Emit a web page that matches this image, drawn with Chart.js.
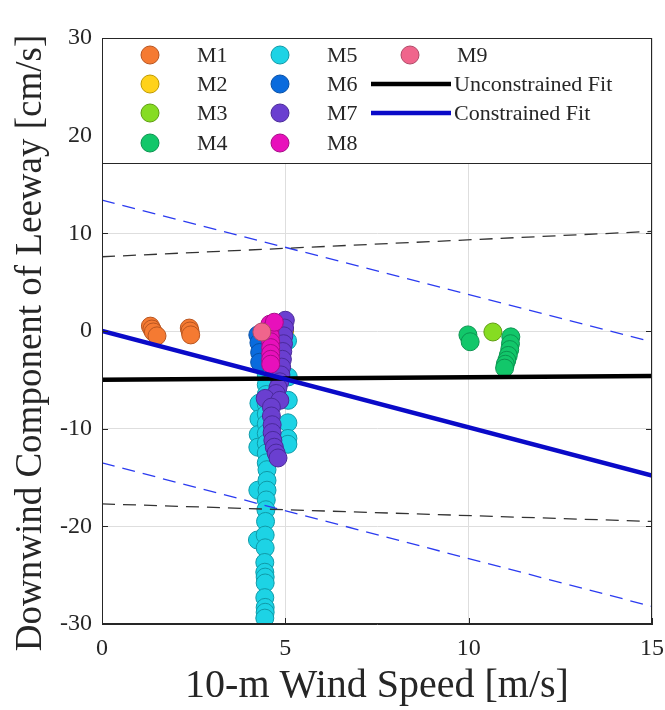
<!DOCTYPE html>
<html><head><meta charset="utf-8">
<script src="https://cdn.jsdelivr.net/npm/chart.js@4.4.1/dist/chart.umd.min.js"></script>
<style>html,body{margin:0;padding:0;background:#fff}canvas{display:block}</style>
</head><body>
<canvas id="c" width="665" height="710"></canvas>
<script>
// ---- data ----
const seriesNames = ['M1','M2','M3','M4','M5','M6','M7','M8','M9'];
const m1X = [1.32, 1.36, 1.40, 1.50, 2.38, 2.40, 2.42];
const m1Y = [0.5, 0.2, -0.1, -0.5, 0.3, 0.0, -0.4];
const m2X = [4.98, 5.0];
const m2Y = [0.0, -0.8];
const m3X = [10.66];
const m3Y = [-0.1];
const m4X = [9.98, 10.04, 11.15, 11.14, 11.12, 11.08, 11.04, 11.0, 10.98];
const m4Y = [-0.4, -1.1, -0.6, -1.3, -1.9, -2.5, -3.0, -3.4, -3.8];
const m5X = [5.06, 5.08, 5.08, 5.07, 5.07, 5.07,
             4.28, 4.28, 4.26, 4.25, 4.25, 4.24,
             4.48, 4.48, 4.48, 4.48, 4.48, 4.48, 4.48, 4.48, 4.48, 4.48, 4.5, 4.5, 4.5, 4.48, 4.47,
             4.46, 4.45, 4.45, 4.44, 4.44, 4.45, 4.45, 4.44, 4.45, 4.45, 4.44];
const m5Y = [-1.0, -4.7, -7.1, -9.4, -11.0, -11.6,
             -7.4, -9.0, -10.6, -11.9, -16.3, -21.4,
             -4.5, -5.5, -6.5, -7.5, -8.5, -9.5, -10.5, -11.5, -12.5, -13.5, -14.2, -15.3, -16.3, -17.3, -18.3,
             -19.5, -20.9, -22.2, -23.7, -24.7, -25.2, -25.8, -27.3, -28.3, -28.8, -29.4];
const m6X = [4.25, 4.28, 4.3, 4.3];
const m6Y = [-0.4, -1.2, -2.2, -3.2];
const m7X = [5.0, 4.98, 4.96, 4.95, 4.93, 4.92, 4.9, 4.88, 4.85, 4.8, 4.75, 4.45, 4.85, 4.62, 4.62, 4.64, 4.64, 4.66, 4.7, 4.75, 4.8];
const m7Y = [1.1, 0.3, -0.5, -1.3, -2.1, -2.9, -3.7, -4.5, -5.2, -5.8, -6.4, -6.9, -7.1, -7.8, -8.7, -9.6, -10.4, -11.2, -11.9, -12.5, -13.0];
const m8X = [4.58, 4.58, 4.59, 4.6, 4.6, 4.6, 4.6, 4.6, 4.7];
const m8Y = [0.7, 0.1, -0.5, -1.1, -1.7, -2.3, -2.9, -3.4, 0.9];
const m9X = [4.36];
const m9Y = [-0.1];

const fitX = [0, 15];
const unconstrainedY = [-5.0, -4.6];
const constrainedY = [0.0, -14.8];
const unconUpperY = [7.6, 10.2];
const unconLowerY = [-17.7, -19.5];
const conUpperY = [13.4, -1.1];
const conLowerY = [-13.5, -28.2];

const xTicks = [0, 5, 10, 15];
const yTicks = [-30, -20, -10, 0, 10, 20, 30];
const xTitle = '10-m Wind Speed [m/s]';
const yTitle = 'Downwind Component of Leeway [cm/s]';

// ---- styles ----
const fills   = ['#f57a32','#ffd21a','#86dc22','#12c76a','#1dd3e5','#0a6bdd','#6a3fd0','#e810bb','#f0658c'];
const borders = ['#b85520','#c09a00','#5f9e10','#0a9450','#109aa8','#0650a8','#4a2a9a','#a80a88','#b04a68'];
const SERIF = '"Liberation Serif","DejaVu Serif",serif';
const TXT = '#262626';
const R = 9;

const xs = [m1X,m2X,m3X,m4X,m5X,m6X,m7X,m8X,m9X];
const ys = [m1Y,m2Y,m3Y,m4Y,m5Y,m6Y,m7Y,m8Y,m9Y];
const pts = (X, Y) => X.map((x, i) => ({x, y: Y[i]}));

const datasets = [];
function lineDs(label, Y, color, width, dash) {
  return {type:'line', label, data: pts(fitX, Y), borderColor: color, borderWidth: width,
          borderDash: dash || [], pointRadius: 0, fill: false, tension: 0, order: 0};
}
datasets.push(lineDs('Constrained Fit', constrainedY, '#0a0ac8', 4.5));
datasets.push(lineDs('Unconstrained Fit', unconstrainedY, '#000000', 4.5));
datasets.push(lineDs('Unc upper', unconUpperY, '#333333', 1.3, [13, 8]));
datasets.push(lineDs('Unc lower', unconLowerY, '#333333', 1.3, [13, 8]));
datasets.push(lineDs('Con upper', conUpperY, '#2b3bf0', 1.3, [13, 8]));
datasets.push(lineDs('Con lower', conLowerY, '#2b3bf0', 1.3, [13, 8]));
seriesNames.forEach((n, i) => {
  datasets.push({type:'scatter', label: n, data: pts(xs[i], ys[i]),
    backgroundColor: fills[i], borderColor: borders[i], borderWidth: 1,
    pointRadius: R, pointHoverRadius: R, order: 10 - i});
});

const frame = {
  id: 'frame',
  afterDatasetsDraw(chart) {
    const {ctx, chartArea: a, scales} = chart;
    ctx.save();
    ctx.strokeStyle = TXT; ctx.lineWidth = 1;
    ctx.beginPath();
    xTicks.forEach(v => { const px = Math.round(scales.x.getPixelForValue(v)) + 0.5;
      ctx.moveTo(px, a.bottom); ctx.lineTo(px, a.bottom - 6); });
    yTicks.forEach(v => { const py = Math.round(scales.y.getPixelForValue(v)) + 0.5;
      ctx.moveTo(a.left, py); ctx.lineTo(a.left + 6, py);
      ctx.moveTo(a.right, py); ctx.lineTo(a.right - 6, py); });
    ctx.stroke();
    // legend box
    const lb = a.top + 125;
    ctx.fillStyle = '#fff';
    ctx.fillRect(a.left, a.top, a.right - a.left, lb - a.top);
    ctx.strokeStyle = TXT; ctx.lineWidth = 1;
    ctx.strokeRect(a.left + 0.5, a.top + 0.5, a.right - a.left - 1, lb - a.top);
    ctx.strokeRect(a.left + 0.5, a.top + 0.5, a.right - a.left - 1, a.bottom - a.top - 1);
    const rows = [a.top + 17, a.top + 46, a.top + 75, a.top + 105];
    const colMarker = [a.left + 48, a.left + 178, a.left + 308];
    const colText = [a.left + 95, a.left + 225, a.left + 355];
    ctx.font = '22px ' + SERIF;
    ctx.textBaseline = 'middle';
    ctx.textAlign = 'left';
    seriesNames.forEach((n, i) => {
      const c = Math.floor(i / 4), r = i % 4;
      ctx.beginPath();
      ctx.arc(colMarker[c], rows[r], R, 0, Math.PI * 2);
      ctx.fillStyle = fills[i]; ctx.fill();
      ctx.strokeStyle = borders[i]; ctx.lineWidth = 1; ctx.stroke();
      ctx.fillStyle = TXT;
      ctx.fillText(n, colText[c], rows[r] + 1);
    });
    const fits = [['Unconstrained Fit', '#000000'], ['Constrained Fit', '#0a0ac8']];
    fits.forEach((f, k) => {
      const y = rows[k + 1];
      ctx.beginPath(); ctx.moveTo(a.left + 269, y); ctx.lineTo(a.left + 349, y);
      ctx.strokeStyle = f[1]; ctx.lineWidth = 4.5; ctx.stroke();
      ctx.fillStyle = TXT;
      ctx.fillText(f[0], a.left + 352, y + 1);
    });
    // y-axis title
    ctx.save();
    ctx.translate(31, 343);
    ctx.rotate(-Math.PI / 2);
    ctx.font = '37px ' + SERIF;
    ctx.textAlign = 'center';
    ctx.textBaseline = 'middle';
    ctx.fillStyle = TXT;
    ctx.fillText(yTitle, 0, 0);
    ctx.restore();
    ctx.restore();
  }
};

new Chart(document.getElementById('c'), {
  type: 'scatter',
  data: { datasets },
  options: {
    responsive: false, animation: false, devicePixelRatio: 1,
    layout: { padding: { left: 0, top: 38, right: 13, bottom: 0 } },
    plugins: { legend: { display: false }, tooltip: { enabled: false } },
    scales: {
      x: {
        type: 'linear', min: 0, max: 15,
        afterBuildTicks: s => { s.ticks = xTicks.map(v => ({value: v})); },
        ticks: { font: { family: SERIF, size: 24 }, color: TXT, padding: 10 },
        grid: { color: '#dedede', drawTicks: false },
        border: { color: TXT },
        title: { display: true, text: xTitle, color: TXT,
                 font: { family: SERIF, size: 40 }, padding: { top: 0, bottom: 0 } },
        afterFit: s => { s.height = 86; s.paddingLeft = 0; s.paddingRight = 0; }
      },
      y: {
        type: 'linear', min: -30, max: 30,
        afterBuildTicks: s => { s.ticks = yTicks.map(v => ({value: v})); },
        ticks: { font: { family: SERIF, size: 24 }, color: TXT, padding: 10 },
        grid: { color: '#dedede', drawTicks: false },
        border: { color: TXT },
        title: { display: false },
        afterFit: s => { s.width = 102; s.paddingTop = 0; s.paddingBottom = 0; }
      }
    }
  },
  plugins: [frame]
});
</script>
</body></html>
